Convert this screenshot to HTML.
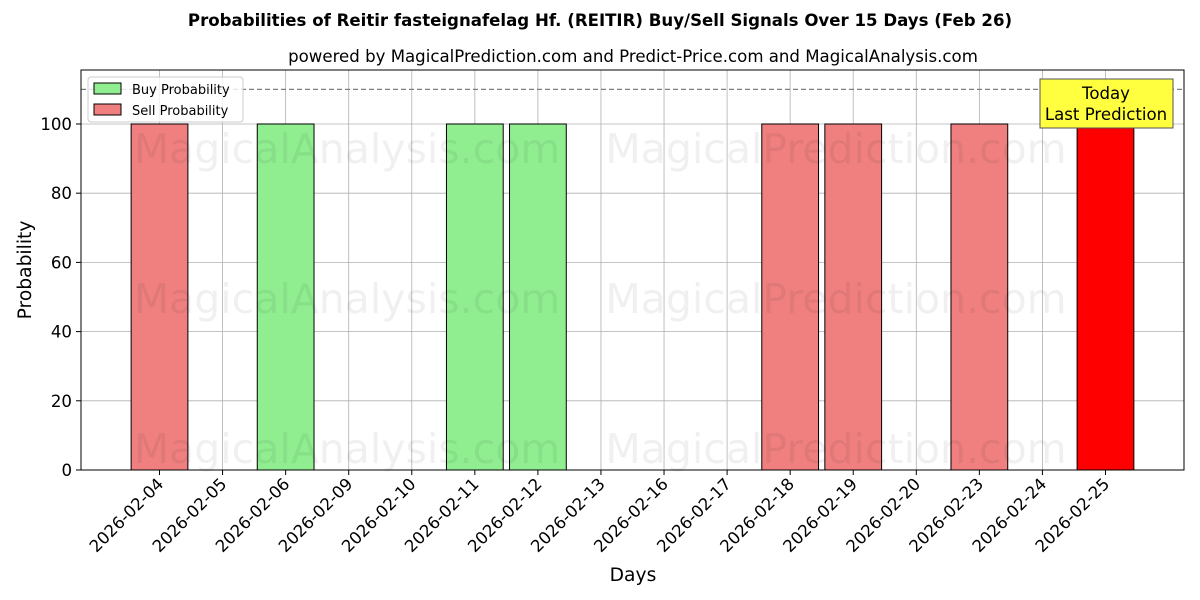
<!DOCTYPE html>
<html><head><meta charset="utf-8">
<style>
html,body{margin:0;padding:0;background:#fff;}
svg{display:block;font-family:"DejaVu Sans","Liberation Sans",sans-serif;}
</style></head>
<body>
<svg id="chart" width="1200" height="600" viewBox="0 0 1200 600">
<text x="600" y="26" text-anchor="middle" font-size="16.6" font-weight="bold">Probabilities of Reitir fasteignafelag Hf. (REITIR) Buy/Sell Signals Over 15 Days (Feb 26)</text>
<text x="633" y="62" text-anchor="middle" font-size="16.6">powered by MagicalPrediction.com and Predict-Price.com and MagicalAnalysis.com</text>
<g id="grid"></g>
<g id="bars"></g>
<g id="wm" fill="#000" fill-opacity="0.06" font-size="41">
<text x="347" y="163" text-anchor="middle">MagicalAnalysis.com</text>
<text x="836" y="163" text-anchor="middle">MagicalPrediction.com</text>
<text x="347" y="313" text-anchor="middle">MagicalAnalysis.com</text>
<text x="836" y="313" text-anchor="middle">MagicalPrediction.com</text>
<text x="347" y="463" text-anchor="middle">MagicalAnalysis.com</text>
<text x="836" y="463" text-anchor="middle">MagicalPrediction.com</text>
</g>
<line x1="81" x2="1184" y1="89.4" y2="89.4" stroke="#808080" stroke-width="1.3" stroke-dasharray="5,3"/>
<rect x="81" y="70" width="1103" height="400" fill="none" stroke="#000" stroke-width="1"/>
<g id="axes" font-size="16.6"></g>
<text x="633" y="581" text-anchor="middle" font-size="18.7">Days</text>
<text transform="translate(31,270) rotate(-90)" text-anchor="middle" font-size="18.7">Probability</text>
<g>
<rect x="88" y="77" width="155" height="45" rx="3" fill="#fff" fill-opacity="0.8" stroke="#ccc"/>
<rect x="94" y="83" width="27" height="11" fill="#90ee90" stroke="#000"/>
<text x="132" y="94" font-size="13">Buy Probability</text>
<rect x="94" y="104" width="27" height="11" fill="#f08080" stroke="#000"/>
<text x="132" y="115" font-size="13">Sell Probability</text>
</g>
<g>
<rect x="1040" y="79" width="133" height="49" fill="#ffff40" stroke="#555"/>
<text x="1106" y="99" text-anchor="middle" font-size="16.6">Today</text>
<text x="1106" y="120" text-anchor="middle" font-size="16.6">Last Prediction</text>
</g>
</svg>
<script>
const categories=["2026-02-04","2026-02-05","2026-02-06","2026-02-09","2026-02-10","2026-02-11","2026-02-12","2026-02-13","2026-02-16","2026-02-17","2026-02-18","2026-02-19","2026-02-20","2026-02-23","2026-02-24","2026-02-25"];
const buyValues=[0,0,100,0,0,100,100,0,0,0,0,0,0,0,0,0];
const sellValues=[100,0,0,0,0,0,0,0,0,0,100,100,0,100,0,100];
const yTicks=[0,20,40,60,80,100];
const NS="http://www.w3.org/2000/svg";
const L=81,R=1184,T=70,B=470,yMax=115.6;
const step=(R-L)/(categories.length-1+2.49);
const x0=L+1.245*step;
const xs=i=>x0+i*step;
const ys=v=>B-v/yMax*(B-T);
function mk(tag,attrs,parent){const e=document.createElementNS(NS,tag);for(const k in attrs)e.setAttribute(k,attrs[k]);parent.appendChild(e);return e;}
const grid=document.getElementById('grid'),bars=document.getElementById('bars'),axes=document.getElementById('axes');
categories.forEach((c,i)=>{
  const x=xs(i);
  const g=mk('line',{x1:x,x2:x,y1:T,y2:B,stroke:'#b0b0b0','stroke-width':0.8},grid);
  
  
  const t=mk('line',{x1:x,x2:x,y1:B,y2:B+5,stroke:'#000'},axes);
  
  
  const lb=mk('text',{transform:`translate(${x+5},${B+15}) rotate(-45)`,'text-anchor':'end'},axes);
  lb.textContent=c;
  
  
});
yTicks.forEach(v=>{
  const y=ys(v);
  const g=mk('line',{x1:L,x2:R,y1:y,y2:y,stroke:'#b0b0b0','stroke-width':0.8},grid);
  
  
  const t=mk('line',{x1:L-5,x2:L,y1:y,y2:y,stroke:'#000'},axes);
  
  
  const lb=mk('text',{x:L-9,y:y+6,'text-anchor':'end'},axes);
  lb.textContent=v;
  
  
});
const bw=step*0.9,last=categories.length-1;
categories.forEach((c,i)=>{
  if(buyValues[i]>0){
    const r=mk('rect',{x:xs(i)-bw/2,y:ys(buyValues[i]),width:bw,height:B-ys(buyValues[i]),fill:'#90ee90',stroke:'#000','stroke-width':1},bars);
    
    
  }
  if(sellValues[i]>0){
    const r=mk('rect',{x:xs(i)-bw/2,y:ys(sellValues[i]),width:bw,height:B-ys(sellValues[i]),fill:i===last?'#ff0000':'#f08080',stroke:'#000','stroke-width':1},bars);
    
    
  }
});
</script>
</body></html>
